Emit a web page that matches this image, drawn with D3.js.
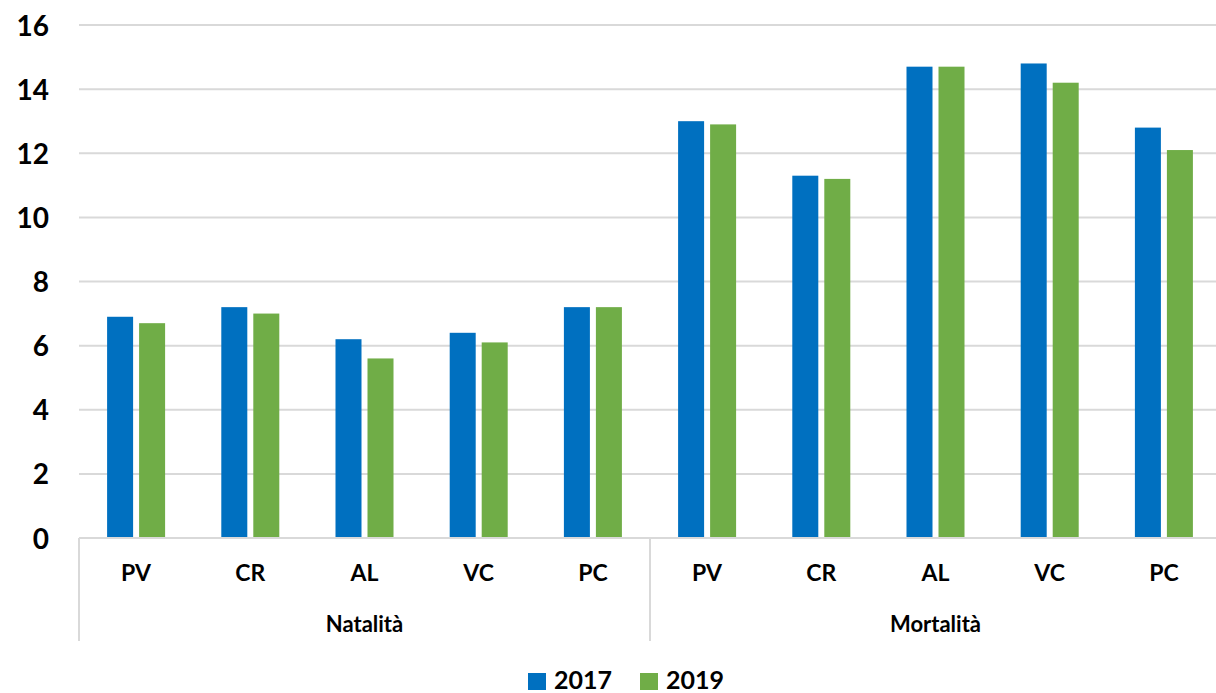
<!DOCTYPE html>
<html><head><meta charset="utf-8">
<script src="https://cdn.jsdelivr.net/npm/d3@7"></script>
<style>body{margin:0;background:#fff;overflow:hidden}text{font-family:Lato,"Open Sans",sans-serif;font-weight:bold;fill:#000}</style>
</head><body>
<svg id="c" width="1216" height="693"></svg>
<script>
const groups = ["Natalità", "Mortalità"];
const categories = ["PV", "CR", "AL", "VC", "PC"];
const seriesNames = ["2017", "2019"];
const values2017 = [6.9, 7.2, 6.2, 6.4, 7.2, 13.0, 11.3, 14.7, 14.8, 12.8];
const values2019 = [6.7, 7.0, 5.6, 6.1, 7.2, 12.9, 11.2, 14.7, 14.2, 12.1];
const yTicks = [0, 2, 4, 6, 8, 10, 12, 14, 16];
const colors = ["#0070C0", "#70AD47"];

const svg = d3.select("#c");
const L = 79, R = 1221, T = 25, B = 538;
const keys = [];
groups.forEach((g, gi) => categories.forEach(c => keys.push(gi + "|" + c)));
const x = d3.scaleBand().domain(keys).range([L, R]);
const y = d3.scaleLinear().domain([0, 16]).range([B, T]);
const xs = d3.scaleBand().domain(seriesNames).range([0, x.bandwidth()]).paddingInner(0.1875).paddingOuter(0.878);

// gridlines
svg.append("g").selectAll("line").data(yTicks.filter(t => t > 0)).join("line")
  .attr("x1", L).attr("x2", R).attr("y1", d => y(d)).attr("y2", d => y(d))
  .attr("stroke", "#d9d9d9").attr("stroke-width", 2);

// y axis labels
const ya = svg.append("g").attr("transform", `translate(${L},0)`)
  .call(d3.axisLeft(y).tickValues(yTicks).tickSize(0).tickPadding(30));
ya.select(".domain").remove();
ya.selectAll("text").attr("font-size", 28).attr("font-family", "Lato").attr("font-weight", "bold").attr("fill", "#000").attr("dy", "0.36em");

// bars
const data = [values2017, values2019];
data.forEach((vals, si) => {
  svg.append("g").selectAll("rect").data(vals).join("rect")
    .attr("x", (d, i) => x(keys[i]) + xs(seriesNames[si]))
    .attr("width", xs.bandwidth())
    .attr("y", d => y(d)).attr("height", d => y(0) - y(d))
    .attr("fill", colors[si]);
});

// x axis line
svg.append("line").attr("x1", L).attr("x2", R).attr("y1", B).attr("y2", B)
  .attr("stroke", "#d9d9d9").attr("stroke-width", 2);
// separators
const seps = [L, x(keys[5])];
svg.append("g").selectAll("line").data(seps).join("line")
  .attr("x1", d => d).attr("x2", d => d).attr("y1", B).attr("y2", 641)
  .attr("stroke", "#d9d9d9").attr("stroke-width", 2);

// category labels
svg.append("g").selectAll("text").data(keys).join("text")
  .attr("x", d => x(d) + x.bandwidth() / 2).attr("y", 581)
  .attr("text-anchor", "middle").attr("font-size", 23)
  .text(d => d.split("|")[1]);
// group labels
svg.append("g").selectAll("text").data(groups).join("text")
  .attr("x", (g, gi) => x(gi + "|" + categories[0]) + x.bandwidth() * categories.length / 2)
  .attr("y", 632).attr("text-anchor", "middle").attr("font-size", 22)
  .text(d => d);

// legend
const lg = svg.append("g");
const legendX = [528, 640];
seriesNames.forEach((s, i) => {
  lg.append("rect").attr("x", legendX[i]).attr("y", 673).attr("width", 18).attr("height", 17).attr("fill", colors[i]);
  lg.append("text").attr("x", legendX[i] + 26).attr("y", 689).attr("font-size", 25).text(s);
});
</script>
</body></html>
